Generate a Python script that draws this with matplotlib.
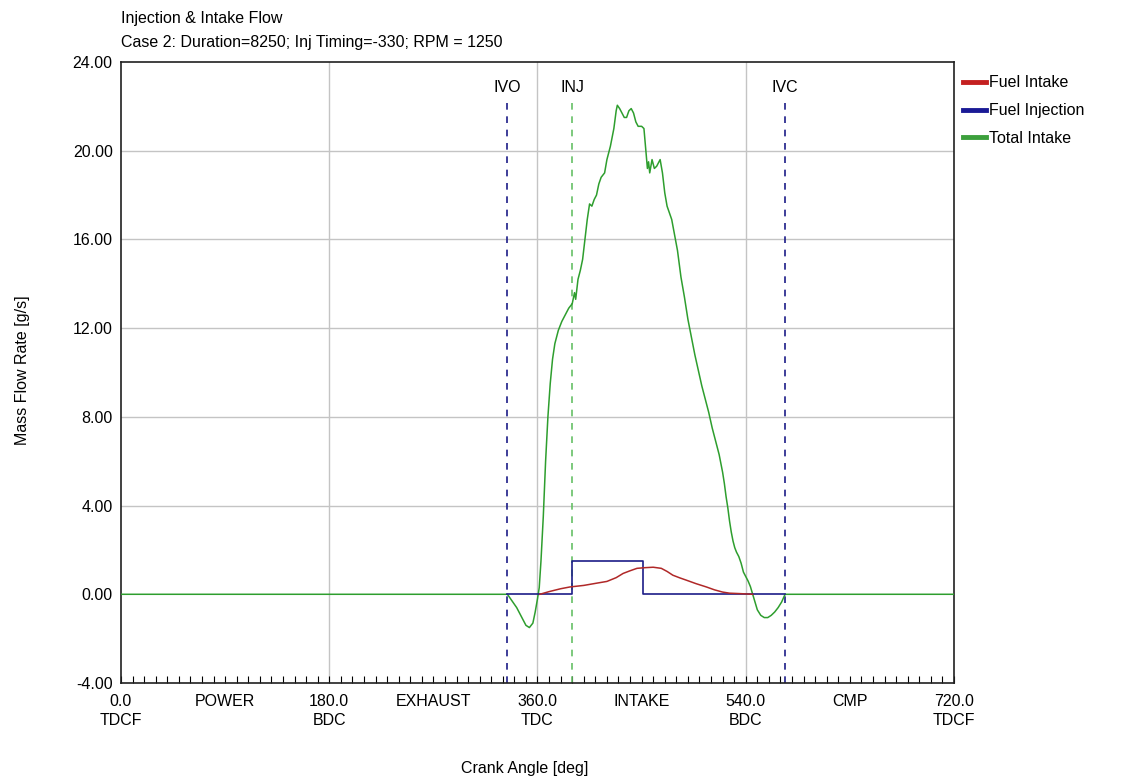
import numpy as np
import matplotlib
matplotlib.use('Agg')
import matplotlib.pyplot as plt
from matplotlib.ticker import MultipleLocator, FormatStrFormatter

plt.rcParams['font.family'] = ['Liberation Sans', 'DejaVu Sans']

# --- data ---
total_deg = [0, 334, 338, 342, 346, 350, 353, 356, 358, 360, 361.5, 363, 365, 367, 369, 371,
             373, 375, 378, 381, 384, 387, 390, 392, 393, 395, 397, 399, 401, 403, 405, 407,
             409, 411, 413, 415, 418, 420, 423, 426, 428, 429, 431, 433, 435, 437, 439, 441,
             443, 445, 447, 450, 452, 454, 455, 456, 457, 459, 461, 463, 466, 468, 470, 472,
             476, 481, 484, 487, 490, 493, 496, 499, 502, 505, 508, 511, 514, 517, 520, 521.5,
             523, 524.5, 526, 527.5, 529, 530.5, 532, 534, 536, 538, 540, 542, 544, 546, 548, 550,
             553, 556, 559, 562, 565, 568, 571, 574, 720]
total_flow = [0, 0, -0.3, -0.6, -1.0, -1.4, -1.5, -1.3, -0.8, -0.2, 0.3, 1.5, 3.5, 6.0, 8.0, 9.5,
              10.6, 11.3, 11.9, 12.3, 12.6, 12.9, 13.1, 13.6, 13.3, 14.2, 14.6, 15.1, 16.0, 16.9, 17.6, 17.5,
              17.8, 18.0, 18.5, 18.8, 19.0, 19.6, 20.2, 21.0, 21.8, 22.05, 21.9, 21.7, 21.5, 21.5, 21.8, 21.9,
              21.7, 21.3, 21.1, 21.1, 21.0, 19.8, 19.2, 19.5, 19.0, 19.6, 19.2, 19.3, 19.6, 19.0, 18.1, 17.5,
              16.9, 15.5, 14.3, 13.4, 12.4, 11.6, 10.8, 10.1, 9.4, 8.8, 8.2, 7.5, 6.9, 6.3, 5.5, 5.0,
              4.4, 3.9, 3.3, 2.8, 2.4, 2.1, 1.9, 1.7, 1.4, 1.0, 0.8, 0.6, 0.35, 0.0, -0.35, -0.7,
              -0.95, -1.05, -1.05, -0.95, -0.8, -0.6, -0.35, 0.0, 0]

fuel_deg = [362, 370, 380, 388, 400, 411, 420, 428, 434, 440, 446, 453, 460, 467, 472,
            477, 483, 489, 497, 506, 513, 520, 526, 535, 546]
fuel_flow = [0, 0.12, 0.25, 0.33, 0.4, 0.5, 0.58, 0.75, 0.94, 1.06, 1.17, 1.2, 1.22, 1.17, 1.03,
             0.86, 0.74, 0.63, 0.48, 0.33, 0.2, 0.1, 0.05, 0.03, 0.0]

inj_deg = [334, 390, 390, 451, 451, 574]
inj_flow = [0, 0, 1.5, 1.5, 0, 0]

ivo, inj, ivc = 334, 390, 574

tick_pos = [0, 90, 180, 270, 360, 450, 540, 630, 720]
tick_lbl = ['0.0\nTDCF', 'POWER', '180.0\nBDC', 'EXHAUST', '360.0\nTDC',
            'INTAKE', '540.0\nBDC', 'CMP', '720.0\nTDCF']

red = '#B02828'
blue = '#1C1C88'
green = '#2E9E2E'
fs = 11.5

fig = plt.figure(figsize=(11.31, 7.83), dpi=100)
ax = fig.add_axes([121 / 1131, 1 - 683 / 783, (954 - 121) / 1131, (683 - 62) / 783])

# grid
for v in [180, 360, 540]:
    ax.axvline(v, color='#C4C4C4', lw=1, zorder=1)
for h in [4, 8, 12, 16, 20]:
    ax.axhline(h, color='#C4C4C4', lw=1, zorder=1)

# event markers
ax.vlines([ivo, ivc], -4, 22.4, colors=blue, linestyles=(0, (4, 4)), lw=1.2, zorder=2)
ax.vlines([inj], -4, 22.4, colors='#66C066', linestyles=(0, (4, 4)), lw=1.2, zorder=2)
for x, t in [(ivo, 'IVO'), (inj, 'INJ'), (ivc, 'IVC')]:
    ax.text(x, 22.85, t, ha='center', va='center', fontsize=fs)

ax.plot(total_deg, total_flow, color=green, lw=1.1, zorder=3)
ax.plot(inj_deg, inj_flow, color=blue, lw=1.2, zorder=4)
ax.plot(fuel_deg, fuel_flow, color=red, lw=1.1, zorder=5)

ax.set_xlim(0, 720)
ax.set_ylim(-4, 24)
ax.set_xticks(tick_pos)
ax.set_xticklabels(tick_lbl, fontsize=fs, linespacing=1.3)
ax.xaxis.set_minor_locator(MultipleLocator(10))
ax.xaxis.remove_overlapping_locs = False
ax.tick_params(axis='x', which='major', length=0, pad=8)
ax.tick_params(axis='x', which='minor', direction='in', length=5, width=0.8)
ax.yaxis.set_major_locator(MultipleLocator(4))
ax.yaxis.set_major_formatter(FormatStrFormatter('%.2f'))
ax.tick_params(axis='y', length=0, pad=6, labelsize=fs)
for s in ax.spines.values():
    s.set_color('#202020')
    s.set_linewidth(1.2)

fig.text(121 / 1131, 1 - 18 / 783, 'Injection & Intake Flow', ha='left', va='center', fontsize=fs)
fig.text(121 / 1131, 1 - 42 / 783, 'Case 2: Duration=8250; Inj Timing=-330; RPM = 1250',
         ha='left', va='center', fontsize=fs)
fig.text(22 / 1131, 1 - 370 / 783, 'Mass Flow Rate [g/s]', rotation=90, ha='center', va='center', fontsize=fs)
fig.text(525 / 1131, 1 - 768 / 783, 'Crank Angle [deg]', ha='center', va='center', fontsize=fs)

handles = [plt.Line2D([], [], color=c, lw=3.5) for c in ['#C42020', '#1A1A96', '#3CA03C']]
fig.legend(handles, ['Fuel Intake', 'Fuel Injection', 'Total Intake'],
           loc='upper left', bbox_to_anchor=(957 / 1131, 1 - 69 / 783), frameon=False,
           fontsize=fs, handlelength=1.4, handletextpad=0.2, labelspacing=0.8, borderaxespad=0)

fig.savefig('out.png', dpi=100)
